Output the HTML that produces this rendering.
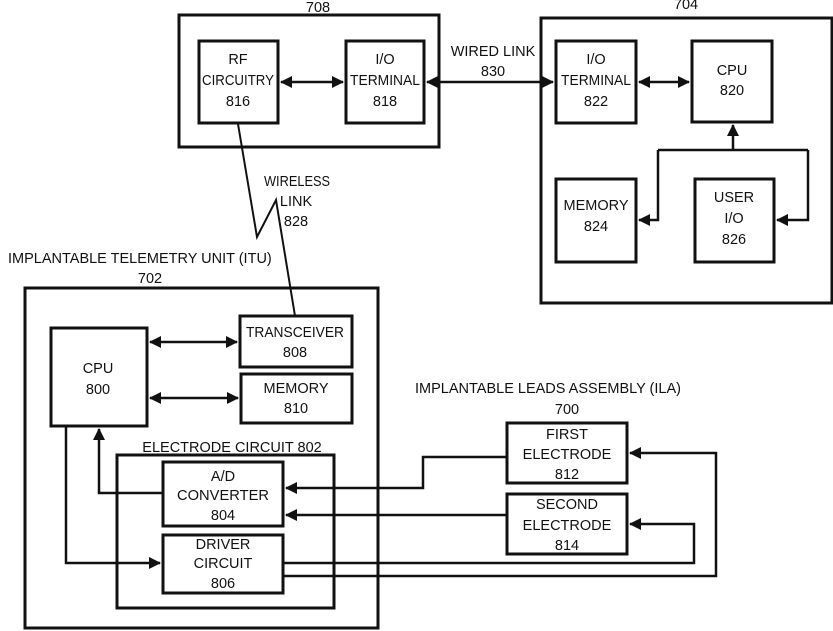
<!DOCTYPE html>
<html><head><meta charset="utf-8"><style>
html,body{margin:0;padding:0;background:#fff;}
svg{display:block;}
text{font-family:"Liberation Sans",sans-serif;font-size:14.5px;fill:#111;text-anchor:middle;}
</style></head><body>
<svg width="833" height="631" viewBox="0 0 833 631" xmlns="http://www.w3.org/2000/svg">
<defs>
<marker id="b" markerWidth="12" markerHeight="12" refX="11" refY="6" orient="auto-start-reverse" markerUnits="userSpaceOnUse">
<path d="M0,0 L12,6 L0,12 Z" fill="#111"/></marker>
</defs>
<g fill="none" stroke="#111" stroke-width="3">
<rect x="179" y="15" width="260" height="132"/>
<rect x="199" y="41" width="79" height="82"/>
<rect x="346" y="41" width="78" height="82"/>
<rect x="541" y="18" width="291" height="285"/>
<rect x="556" y="41" width="80" height="82"/>
<rect x="692" y="41" width="80" height="81"/>
<rect x="556" y="179" width="80" height="83"/>
<rect x="695" y="179" width="79" height="83"/>
<rect x="25" y="288" width="353" height="340"/>
<rect x="51" y="328" width="96" height="98"/>
<rect x="240" y="316" width="112" height="51"/>
<rect x="241" y="374" width="111" height="49"/>
<rect x="117" y="455" width="217" height="153"/>
<rect x="163" y="462" width="120" height="64"/>
<rect x="163" y="535" width="120" height="58"/>
<rect x="507" y="423" width="120" height="60"/>
<rect x="507" y="494" width="120" height="60"/>
</g>
<g fill="none" stroke="#111" stroke-width="2.5">
<line x1="281" y1="82" x2="343" y2="82" marker-start="url(#b)" marker-end="url(#b)"/>
<line x1="427" y1="82" x2="553" y2="82" marker-start="url(#b)" marker-end="url(#b)"/>
<line x1="639" y1="82" x2="689" y2="82" marker-start="url(#b)" marker-end="url(#b)"/>
<path d="M733 150 V125" marker-end="url(#b)"/>
<path d="M658 150 H808"/>
<path d="M658 150 V220 H639" marker-end="url(#b)"/>
<path d="M808 150 V220 H777" marker-end="url(#b)"/>
<path d="M238 124 L257 237 L276 200 L295 316" stroke-width="2"/>
<line x1="150" y1="342" x2="237" y2="342" marker-start="url(#b)" marker-end="url(#b)"/>
<line x1="150" y1="398" x2="238" y2="398" marker-start="url(#b)" marker-end="url(#b)"/>
<path d="M163 493 H99 V429" marker-end="url(#b)"/>
<path d="M66 426 V563 H160" marker-end="url(#b)"/>
<path d="M507 457 H423 V488 H286" marker-end="url(#b)"/>
<path d="M507 515 H286" marker-end="url(#b)"/>
<path d="M283 563 H694 V524 H630" marker-end="url(#b)"/>
<path d="M283 576 H716 V453 H630" marker-end="url(#b)"/>
</g>
<text x="318" y="12">708</text>
<text x="238" y="64">RF</text><text x="238" y="85" textLength="72" lengthAdjust="spacingAndGlyphs">CIRCUITRY</text><text x="238" y="106">816</text>
<text x="385" y="64">I/O</text><text x="385" y="85" textLength="70" lengthAdjust="spacingAndGlyphs">TERMINAL</text><text x="385" y="106">818</text>
<text x="493" y="56">WIRED LINK</text><text x="493" y="76">830</text>
<text x="686" y="9">704</text>
<text x="596" y="64">I/O</text><text x="596" y="85" textLength="70" lengthAdjust="spacingAndGlyphs">TERMINAL</text><text x="596" y="106">822</text>
<text x="732" y="75">CPU</text><text x="732" y="95">820</text>
<text x="596" y="210">MEMORY</text><text x="596" y="231">824</text>
<text x="734" y="202">USER</text><text x="734" y="223">I/O</text><text x="734" y="244">826</text>
<text x="297" y="186" textLength="66" lengthAdjust="spacingAndGlyphs">WIRELESS</text><text x="296" y="206">LINK</text><text x="296" y="226">828</text>
<text x="8" y="263" style="text-anchor:start">IMPLANTABLE TELEMETRY UNIT (ITU)</text>
<text x="150" y="283">702</text>
<text x="98" y="373">CPU</text><text x="98" y="394">800</text>
<text x="295" y="337" textLength="98" lengthAdjust="spacingAndGlyphs">TRANSCEIVER</text><text x="295" y="357">808</text>
<text x="296" y="393">MEMORY</text><text x="296" y="413">810</text>
<text x="232" y="452">ELECTRODE CIRCUIT 802</text>
<text x="223" y="481">A/D</text><text x="223" y="500" textLength="92" lengthAdjust="spacingAndGlyphs">CONVERTER</text><text x="223" y="520">804</text>
<text x="223" y="549">DRIVER</text><text x="223" y="568">CIRCUIT</text><text x="223" y="588">806</text>
<text x="548" y="393">IMPLANTABLE LEADS ASSEMBLY (ILA)</text>
<text x="567" y="414">700</text>
<text x="567" y="439">FIRST</text><text x="567" y="459">ELECTRODE</text><text x="567" y="479">812</text>
<text x="567" y="509">SECOND</text><text x="567" y="530">ELECTRODE</text><text x="567" y="550">814</text>
</svg>
</body></html>
